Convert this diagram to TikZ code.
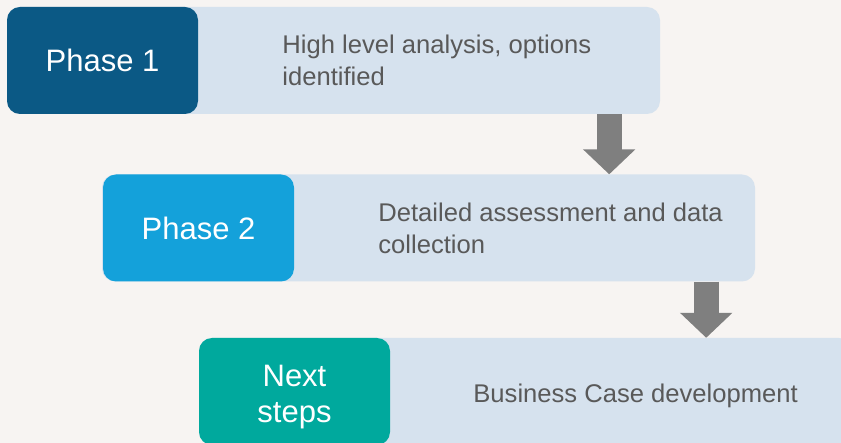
\documentclass[tikz,border=0pt]{standalone}
\usepackage{fontspec}
\setmainfont{Liberation Sans}
\usetikzlibrary{arrows.meta,positioning}
\definecolor{pagebg}{HTML}{F7F4F2}
\definecolor{taskfill}{HTML}{D6E2EE}
\definecolor{phaseone}{HTML}{0B5985}
\definecolor{phasetwo}{HTML}{14A1DA}
\definecolor{phasenext}{HTML}{00A99D}
\definecolor{textgrey}{HTML}{595959}
\definecolor{arrowgrey}{HTML}{7F7F7F}
\begin{document}
\begin{tikzpicture}[x=1pt,y=-1pt,
    phasebox/.style={rounded corners=13pt, minimum width=191pt, minimum height=107pt, inner sep=0pt,
      text=white, align=center, font=\fontsize{31}{36}\selectfont},
    taskbox/.style={fill=taskfill, rounded corners=13pt, minimum width=653pt, minimum height=107pt, inner sep=0pt},
    tasktext/.style={text=textgrey, align=left, inner sep=0pt, font=\fontsize{25.6}{32}\selectfont},
    downarrow/.style={draw=arrowgrey, line width=25pt, -{Triangle[width=51pt,length=25pt]}}]
  \fill[pagebg] (0,0) rectangle (841,443);
  \useasboundingbox (0,0) rectangle (841,443);
  % light boxes first, phase boxes on top
  \node[taskbox] (task1) at (333.5,60.5) {};
  \node[taskbox] (task2) at (428.5,228) {};
  \node[taskbox] (task3) at (525.5,391.5) {};
  \node[phasebox, fill=phaseone] (phase1) at (102.5,60.5) {Phase 1};
  \node[phasebox, fill=phasetwo] (phase2) at (198.5,228) {Phase 2};
  \node[phasebox, fill=phasenext] (next) at (294.5,391.5) {};
  \node[text=white, align=center, font=\fontsize{31}{36}\selectfont] (nexttext) at ([yshift=-6pt]next.center) {Next\\steps};
  \node[tasktext, right=84pt of phase1] (text1) {High level analysis, options\\identified};
  \node[tasktext, right=84pt of phase2] (text2) {Detailed assessment and data\\collection};
  \node[tasktext, right=83pt of next, yshift=-4pt] (text3) {Business Case development};
  % arrows
  \coordinate (a1) at ([xshift=-51pt]task1.south east);
  \coordinate (a2) at ([xshift=-49pt]task2.south east);
  \draw[downarrow] (a1) -- (a1 |- task2.north);
  \draw[downarrow] (a2) -- (a2 |- task3.north);
\end{tikzpicture}
\end{document}
